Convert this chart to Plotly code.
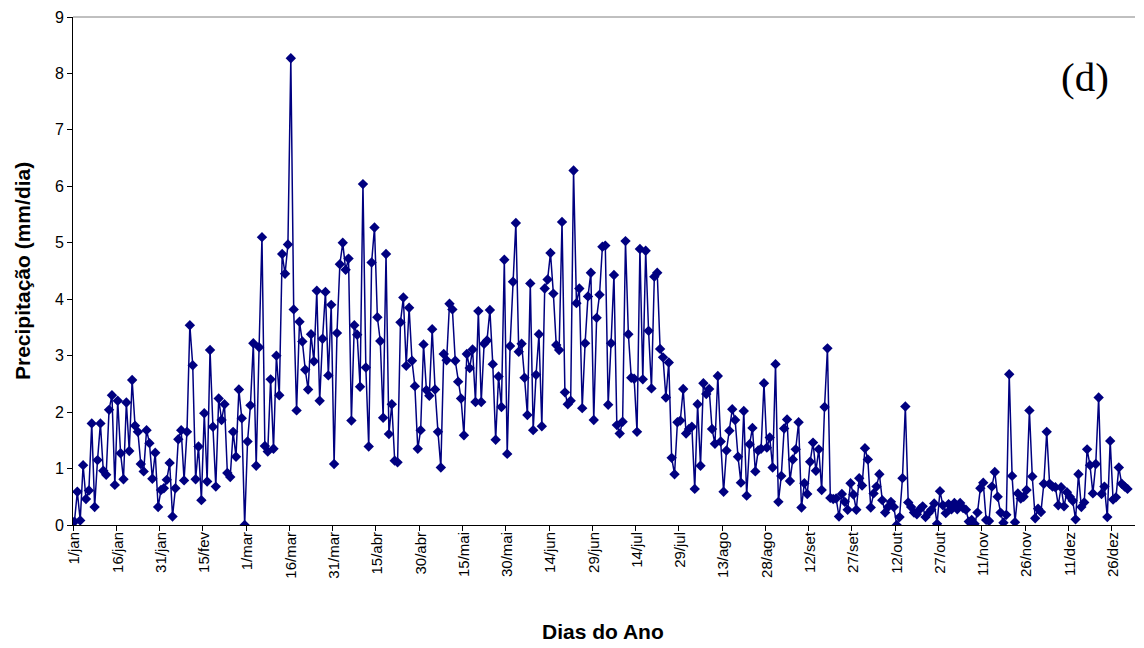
import plotly.graph_objects as go

jan = [0.06, 0.59, 0.08, 1.06, 0.46, 0.61, 1.80, 0.32, 1.15, 1.80, 0.96, 0.89, 2.04, 2.30, 0.71,
       2.20, 1.27, 0.81, 2.17, 1.31, 2.57, 1.76, 1.65, 1.08, 0.95, 1.68, 1.45, 0.82, 1.28, 0.32, 0.62]
fev = [0.65, 0.80, 1.10, 0.15, 0.65, 1.52, 1.68, 0.79, 1.65, 3.54, 2.83, 0.81, 1.39, 0.44,
       1.98, 0.77, 3.10, 1.74, 0.68, 2.24, 1.86, 2.14, 0.92, 0.85, 1.65, 1.21, 2.40, 1.89, 0.00]
mar = [1.48, 2.12, 3.22, 1.05, 3.15, 5.10, 1.40, 1.30, 2.58, 1.35, 3.00, 2.30, 4.80, 4.45, 4.97,
       8.27, 3.82, 2.03, 3.60, 3.25, 2.75, 2.40, 3.38, 2.90, 4.15, 2.20, 3.30, 4.13, 2.65, 3.90, 1.08]
abr = [3.40, 4.62, 5.00, 4.52, 4.72, 1.85, 3.54, 3.37, 2.45, 6.04, 2.79, 1.39, 4.65, 5.27,
       3.68, 3.26, 1.90, 4.80, 1.61, 2.14, 1.14, 1.11, 3.59, 4.03, 2.82, 3.85, 2.91, 2.46, 1.35, 1.68]
mai = [3.20, 2.39, 2.29, 3.47, 2.40, 1.65, 1.02, 3.03, 2.92, 3.92, 3.82, 2.91, 2.54, 2.24,
       1.59, 3.03, 2.78, 3.11, 2.18, 3.79, 2.18, 3.21, 3.27, 3.81, 2.85, 1.51, 2.63, 2.09, 4.70, 1.26, 3.17]
jun = [4.31, 5.35, 3.07, 3.21, 2.61, 1.95, 4.28, 1.68, 2.66, 3.38, 1.75, 4.19, 4.35,
       4.82, 4.10, 3.19, 3.10, 5.37, 2.35, 2.14, 2.20, 6.28, 3.93, 4.19, 2.07, 3.22, 4.05, 4.47, 1.86, 3.67]
jul = [4.08, 4.93, 4.95, 2.13, 3.22, 4.43, 1.77, 1.62, 1.83, 5.03, 3.38, 2.61, 2.59,
       1.65, 4.89, 2.58, 4.86, 3.44, 2.42, 4.40, 4.47, 3.12, 2.97, 2.26, 2.88, 1.19, 0.90, 1.82, 1.85, 2.41, 1.62]
ago = [1.70, 1.74, 0.64, 2.14, 1.05, 2.51, 2.32, 2.41, 1.70, 1.44, 2.64, 1.48,
       0.59, 1.32, 1.67, 2.05, 1.86, 1.21, 0.75, 2.02, 0.52, 1.43, 1.72, 0.95, 1.32, 1.35, 2.51, 1.37, 1.55, 1.02, 2.85]
setb = [0.41, 0.87, 1.71, 1.87, 0.78, 1.16, 1.34, 1.82, 0.31, 0.74, 0.55,
        1.12, 1.46, 0.96, 1.34, 0.62, 2.09, 3.13, 0.48, 0.46, 0.47, 0.15, 0.55, 0.41, 0.27, 0.74, 0.54, 0.27, 0.83, 0.70]
out = [1.36, 1.16, 0.31, 0.56, 0.68, 0.90, 0.44, 0.22, 0.32, 0.41, 0.32,
       0.00, 0.14, 0.83, 2.10, 0.40, 0.32, 0.22, 0.19, 0.28, 0.33, 0.14, 0.21, 0.27, 0.38, 0.02, 0.60, 0.35, 0.21, 0.37, 0.28]
nov = [0.39, 0.28, 0.39, 0.30, 0.27, 0.06, 0.09, 0.02, 0.22, 0.65,
       0.75, 0.09, 0.07, 0.68, 0.94, 0.50, 0.22, 0.04, 0.18, 2.67, 0.87, 0.05, 0.56, 0.47, 0.50, 0.62, 2.03, 0.86, 0.12, 0.29]
dez = [0.23, 0.73, 1.65, 0.73, 0.68, 0.67, 0.35, 0.67, 0.33, 0.58,
       0.50, 0.43, 0.10, 0.90, 0.32, 0.40, 1.34, 1.06, 0.56, 1.08, 2.26, 0.55, 0.68, 0.14, 1.49,
       0.45, 0.49, 1.02, 0.73, 0.68, 0.64]

tick_labels = ["1/jan", "16/jan", "31/jan", "15/fev", "1/mar", "16/mar", "31/mar", "15/abr", "30/abr",
               "15/mai", "30/mai", "14/jun", "29/jun", "14/jul", "29/jul", "13/ago", "28/ago", "12/set",
               "27/set", "12/out", "27/out", "11/nov", "26/nov", "11/dez", "26/dez"]

precip = jan + fev + mar + abr + mai + jun + jul + ago + setb + out + nov + dez
days = list(range(1, len(precip) + 1))
tick_pos = [1 + 15 * i for i in range(len(tick_labels))]

navy = "#000080"
fig = go.Figure()
fig.add_trace(go.Scatter(
    x=days, y=precip, mode="lines+markers",
    line=dict(color=navy, width=1.5),
    marker=dict(symbol="diamond", size=8, color=navy),
    showlegend=False, hoverinfo="x+y"))

fig.update_layout(
    width=1136, height=640,
    margin=dict(l=65, r=9, t=9, b=123, autoexpand=False),
    paper_bgcolor="white", plot_bgcolor="white",
    font=dict(family="Liberation Sans, Arial, sans-serif", color="black"),
    xaxis=dict(
        range=[0.5, 368.6], tickmode="array", tickvals=tick_pos, ticktext=tick_labels,
        tickangle=-90, ticks="", tickfont=dict(size=15), automargin=False,
        showline=True, linecolor="black", linewidth=1, mirror=False,
        showgrid=False, zeroline=False,
        minor=dict(tickmode="array", tickvals=[0.5 + 15 * i for i in range(25)],
                   ticks="outside", ticklen=5, tickcolor="black", tickwidth=1, showgrid=False),
    ),
    yaxis=dict(
        range=[0, 9], tickmode="linear", tick0=0, dtick=1, automargin=False,
        ticks="outside", ticklen=5, tickcolor="black", tickfont=dict(size=16),
        showline=True, linecolor="black", linewidth=1,
        showgrid=False, zeroline=False,
    ),
)

# plot-area top border
fig.add_shape(type="line", xref="paper", yref="paper", x0=0, x1=1, y0=1, y1=1,
              line=dict(color="#808080", width=1))

fig.add_annotation(text="<b>Precipitação (mm/dia)</b>", xref="paper", yref="paper",
                   x=-0.048, y=0.5, textangle=-90, showarrow=False,
                   xanchor="center", yanchor="middle", font=dict(size=21))
fig.add_annotation(text="<b>Dias do Ano</b>", xref="paper", yref="paper",
                   x=0.499, y=-0.2106, showarrow=False,
                   xanchor="center", yanchor="middle", font=dict(size=21))
fig.add_annotation(text="(d)", xref="paper", yref="paper", x=0.953, y=0.882,
                   xanchor="center", yanchor="middle", showarrow=False,
                   font=dict(family="Liberation Serif, Times New Roman, serif", size=41))

fig.write_html("out.html")
